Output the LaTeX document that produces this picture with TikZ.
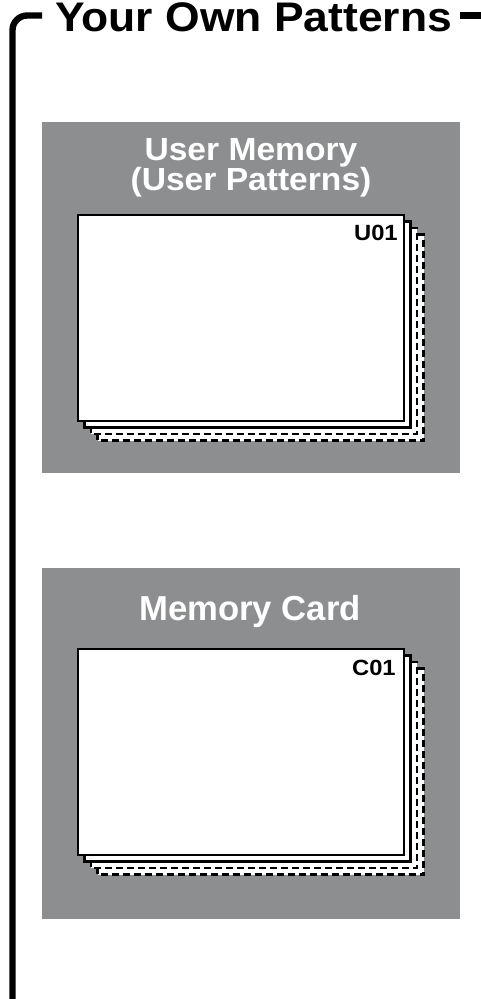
\documentclass[tikz,border=0pt]{standalone}
\usepackage{fontspec}
\setmainfont{Liberation Sans}
\definecolor{panelgray}{RGB}{141,142,144}
\begin{document}
\begin{tikzpicture}[x=0.75pt,y=-0.75pt,
  bracket/.style={line width=4.8pt},
  panel/.style={fill=panelgray},
  card/.style={draw=black, fill=white, line width=1.7pt},
  dcard/.style={draw=black, fill=white, line width=1.8pt, dash pattern=on 5.25pt off 3pt},
  paneltitle/.style={text=white, font=\fontsize{26pt}{28pt}\selectfont\bfseries, inner sep=0pt, anchor=base},
  cardlabel/.style={font=\fontsize{16.5pt}{18pt}\selectfont\bfseries, inner sep=0pt, anchor=base east, xscale=1.08},
  heading/.style={font=\fontsize{31pt}{34pt}\selectfont\bfseries, inner sep=0pt, anchor=base west, xscale=1.075}]
\useasboundingbox (0,0) rectangle (481,999);
% bracket
\draw[bracket, rounded corners=11pt] (12.5,1003) -- (12.5,15.5) -- (42,15.5);
\draw[bracket] (460,15.5) -- (485,15.5);
\node[heading] (title) at (55,32) {Your Own Patterns};
% panel 1
\fill[panel] (42,122) rectangle (460,473);
\node[paneltitle, font=\fontsize{24pt}{26pt}\selectfont\bfseries, xscale=1.05] (p1a) at (251,160) {User Memory};
\node[paneltitle, font=\fontsize{24pt}{26pt}\selectfont\bfseries, xscale=1.05] (p1b) at (251,190) {(User Patterns)};
\foreach \d/\s in {19.5/dcard, 13/dcard, 6.5/card, 0/card}
  \draw[\s] (78+\d,215+\d) rectangle ++(326,206);
\node[cardlabel] (u01) at (398,240) {U01};
% panel 2
\fill[panel] (42,568) rectangle (460,919);
\node[paneltitle] (p2) at (250,620) {Memory Card};
\foreach \d/\s in {19.5/dcard, 13/dcard, 6.5/card, 0/card}
  \draw[\s] (78+\d,649+\d) rectangle ++(326,206);
\node[cardlabel] (c01) at (396,675) {C01};
\end{tikzpicture}
\end{document}
